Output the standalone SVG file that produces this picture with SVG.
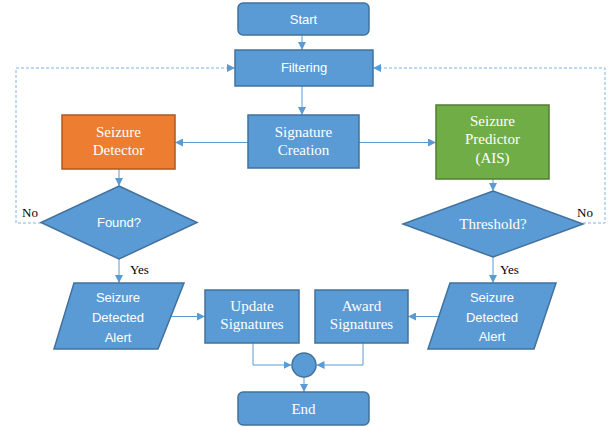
<svg xmlns="http://www.w3.org/2000/svg" width="608" height="427" viewBox="0 0 608 427">
<defs>
<marker id="ah" viewBox="0 0 8 8" refX="8" refY="4" markerWidth="8" markerHeight="8" markerUnits="userSpaceOnUse" orient="auto">
<path d="M0,0 L8,4 L0,8 Z" fill="#5B9BD5"/>
</marker>
<style>
.b{fill:#5B9BD5;stroke:#41719C;stroke-width:1.5}
.o{fill:#ED7D31;stroke:#AE5A21;stroke-width:1.5}
.g{fill:#70AD47;stroke:#507E32;stroke-width:1.5}
.c{fill:none;stroke:#5B9BD5;stroke-width:1}
.d{fill:none;stroke:#80B4E3;stroke-width:1;stroke-dasharray:3,2}
.s{font-family:"Liberation Sans",Arial,sans-serif;font-size:13px;fill:#fff;text-anchor:middle}
.t{font-family:"Liberation Serif","Times New Roman",serif;font-size:15px;fill:#fff;text-anchor:middle}
.k{font-family:"Liberation Serif","Times New Roman",serif;font-size:13px;fill:#000}
</style>
</defs>
<g id="connectors">
<line class="c" x1="302" y1="35" x2="302" y2="50" marker-end="url(#ah)"/>
<line class="c" x1="302" y1="86" x2="302" y2="115" marker-end="url(#ah)"/>
<line class="c" x1="248" y1="142.5" x2="175" y2="142.5" marker-end="url(#ah)"/>
<line class="c" x1="359" y1="142.5" x2="436" y2="142.5" marker-end="url(#ah)"/>
<line class="c" x1="119" y1="169" x2="119" y2="186" marker-end="url(#ah)"/>
<line class="c" x1="493" y1="179" x2="493" y2="191" marker-end="url(#ah)"/>
<polyline class="d" points="41,223 16,223 16,68 235,68" marker-end="url(#ah)"/>
<polyline class="d" points="583,223 605,223 605,68 373,68" marker-end="url(#ah)"/>
<line class="c" x1="119" y1="259" x2="119" y2="283" marker-end="url(#ah)"/>
<line class="c" x1="493" y1="257" x2="493" y2="283" marker-end="url(#ah)"/>
<line class="c" x1="170" y1="316.5" x2="205" y2="316.5" marker-end="url(#ah)"/>
<line class="c" x1="441" y1="316.5" x2="408" y2="316.5" marker-end="url(#ah)"/>
<polyline class="c" points="253,343 253,365 291.5,365" marker-end="url(#ah)"/>
<polyline class="c" points="363,343 363,365 316.5,365" marker-end="url(#ah)"/>
<line class="c" x1="304" y1="377" x2="304" y2="392" marker-end="url(#ah)"/>
</g>
<g id="start"><rect class="b" x="238" y="3" width="131" height="32" rx="5"/><text class="s" x="303.5" y="24">Start</text></g>
<g id="filtering"><rect class="b" x="235" y="50" width="138" height="36"/><text class="s" x="304" y="72">Filtering</text></g>
<g id="signature-creation"><rect class="b" x="248" y="115" width="111" height="53"/><text class="t" x="303.5" y="137">Signature</text><text class="t" x="303.5" y="155">Creation</text></g>
<g id="seizure-detector"><rect class="o" x="62" y="115" width="113" height="54"/><text class="t" x="118.5" y="137">Seizure</text><text class="t" x="118.5" y="155">Detector</text></g>
<g id="seizure-predictor"><rect class="g" x="436" y="105" width="113" height="74"/><text class="t" x="492.5" y="126">Seizure</text><text class="t" x="492.5" y="144">Predictor</text><text class="t" x="492.5" y="163">(AIS)</text></g>
<g id="found"><polygon class="b" points="119,186 197,222.5 119,259 41,222.5"/><text class="s" x="119" y="227">Found?</text></g>
<g id="threshold"><polygon class="b" points="493,191 583,224 493,257 403,224"/><text class="t" x="493" y="229">Threshold?</text></g>
<g id="labels">
<text class="k" x="22" y="217">No</text>
<text class="k" x="577" y="217">No</text>
<text class="k" x="130" y="274">Yes</text>
<text class="k" x="500" y="274">Yes</text>
</g>
<g id="alert-left"><polygon class="b" points="74,283 184,283 158,349 54,349"/><text class="s" x="118" y="302">Seizure</text><text class="s" x="118" y="322">Detected</text><text class="s" x="118" y="342">Alert</text></g>
<g id="update-signatures"><rect class="b" x="205" y="290" width="94" height="53"/><text class="t" x="252" y="311">Update</text><text class="t" x="252" y="329">Signatures</text></g>
<g id="award-signatures"><rect class="b" x="315" y="290" width="93" height="53"/><text class="t" x="361.5" y="311">Award</text><text class="t" x="361.5" y="329">Signatures</text></g>
<g id="alert-right"><polygon class="b" points="450,283 556,283 534,349 428,349"/><text class="s" x="492" y="302">Seizure</text><text class="s" x="492" y="322">Detected</text><text class="s" x="492" y="341">Alert</text></g>
<g id="merge"><circle class="b" cx="304" cy="365" r="12"/></g>
<g id="end"><rect class="b" x="238" y="392" width="131" height="33" rx="5"/><text class="t" x="303.5" y="414">End</text></g>
</svg>
